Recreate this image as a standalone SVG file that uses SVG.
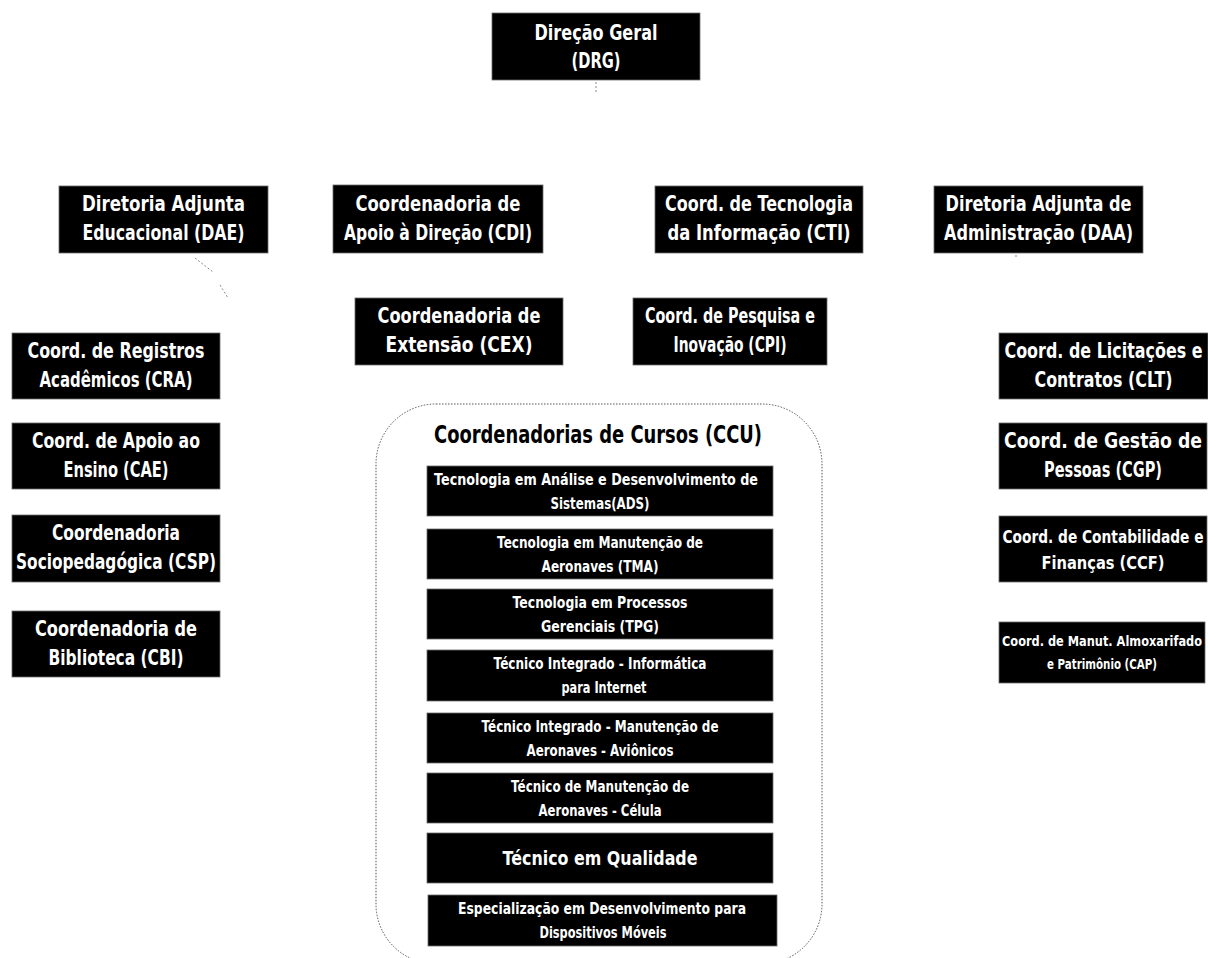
<svg xmlns="http://www.w3.org/2000/svg" width="1208" height="958" viewBox="0 0 1208 958">
<style>
.box{fill:#000;stroke:#6b6b6b;stroke-width:0.8}
text{font-family:'DejaVu Sans','Liberation Sans',sans-serif;font-weight:bold;fill:#fff;text-anchor:middle}
.h{font-size:21.5px}
.s{font-size:17px}
.xs{font-size:14.5px}
.c{font-size:16px}
.q{font-size:19.5px}
.t{font-size:25px;fill:#000}
.con{fill:none;stroke:#888;stroke-width:1;stroke-dasharray:2 2}
.frame{fill:none;stroke:#555;stroke-width:1;stroke-dasharray:1.5 1.5}
</style>
<rect width="1208" height="958" fill="#fff"/>
<g id="connectors">
<line class="con" x1="596" y1="82" x2="596" y2="93"/>
<line class="con" x1="195" y1="258" x2="213" y2="272"/>
<line class="con" x1="220" y1="285" x2="228" y2="298"/>
<line class="con" x1="1016" y1="255" x2="1016" y2="259"/>
</g>
<g id="DRG"><rect class="box" x="492" y="13" width="208" height="67"/><text class="h" x="596" y="40" textLength="123" lengthAdjust="spacingAndGlyphs">Direção Geral</text><text class="h" x="596" y="68" textLength="49" lengthAdjust="spacingAndGlyphs">(DRG)</text></g>
<g id="DAE"><rect class="box" x="59" y="186" width="209" height="67"/><text class="h" x="163.5" y="211" textLength="163" lengthAdjust="spacingAndGlyphs">Diretoria Adjunta</text><text class="h" x="163.5" y="240" textLength="162" lengthAdjust="spacingAndGlyphs">Educacional (DAE)</text></g>
<g id="CDI"><rect class="box" x="333" y="185" width="210" height="68"/><text class="h" x="438" y="211" textLength="165" lengthAdjust="spacingAndGlyphs">Coordenadoria de</text><text class="h" x="438" y="240" textLength="188" lengthAdjust="spacingAndGlyphs">Apoio à Direção (CDI)</text></g>
<g id="CTI"><rect class="box" x="655" y="186" width="208" height="67"/><text class="h" x="759" y="211" textLength="188" lengthAdjust="spacingAndGlyphs">Coord. de Tecnologia</text><text class="h" x="759" y="240" textLength="183" lengthAdjust="spacingAndGlyphs">da Informação (CTI)</text></g>
<g id="DAA"><rect class="box" x="934" y="186" width="209" height="67"/><text class="h" x="1038.5" y="211" textLength="186" lengthAdjust="spacingAndGlyphs">Diretoria Adjunta de</text><text class="h" x="1038.5" y="240" textLength="189" lengthAdjust="spacingAndGlyphs">Administração (DAA)</text></g>
<g id="CEX"><rect class="box" x="355" y="298" width="208" height="67"/><text class="h" x="459" y="323" textLength="163" lengthAdjust="spacingAndGlyphs">Coordenadoria de</text><text class="h" x="459" y="352" textLength="147" lengthAdjust="spacingAndGlyphs">Extensão (CEX)</text></g>
<g id="CPI"><rect class="box" x="633" y="298" width="194" height="67"/><text class="h" x="730" y="323" textLength="170" lengthAdjust="spacingAndGlyphs">Coord. de Pesquisa e</text><text class="h" x="730" y="352" textLength="113" lengthAdjust="spacingAndGlyphs">Inovação (CPI)</text></g>
<g id="CRA"><rect class="box" x="12" y="333" width="208" height="66"/><text class="h" x="116" y="358" textLength="177" lengthAdjust="spacingAndGlyphs">Coord. de Registros</text><text class="h" x="116" y="387" textLength="153" lengthAdjust="spacingAndGlyphs">Acadêmicos (CRA)</text></g>
<g id="CAE"><rect class="box" x="12" y="423" width="208" height="66"/><text class="h" x="116" y="448" textLength="168" lengthAdjust="spacingAndGlyphs">Coord. de Apoio ao</text><text class="h" x="116" y="477" textLength="105" lengthAdjust="spacingAndGlyphs">Ensino (CAE)</text></g>
<g id="CSP"><rect class="box" x="12" y="515" width="208" height="67"/><text class="h" x="116" y="540" textLength="128" lengthAdjust="spacingAndGlyphs">Coordenadoria</text><text class="h" x="116" y="569" textLength="200" lengthAdjust="spacingAndGlyphs">Sociopedagógica (CSP)</text></g>
<g id="CBI"><rect class="box" x="12" y="611" width="208" height="66"/><text class="h" x="116" y="636" textLength="162" lengthAdjust="spacingAndGlyphs">Coordenadoria de</text><text class="h" x="116" y="665" textLength="135" lengthAdjust="spacingAndGlyphs">Biblioteca (CBI)</text></g>
<g id="CLT"><rect class="box" x="999" y="333" width="209" height="66"/><text class="h" x="1103.5" y="358" textLength="198" lengthAdjust="spacingAndGlyphs">Coord. de Licitações e</text><text class="h" x="1103.5" y="387" textLength="138" lengthAdjust="spacingAndGlyphs">Contratos (CLT)</text></g>
<g id="CGP"><rect class="box" x="999" y="423" width="208" height="66"/><text class="h" x="1103" y="448" textLength="198" lengthAdjust="spacingAndGlyphs">Coord. de Gestão de</text><text class="h" x="1103" y="477" textLength="118" lengthAdjust="spacingAndGlyphs">Pessoas (CGP)</text></g>
<g id="CCF"><rect class="box" x="999" y="516" width="208" height="66"/><text class="s" x="1103" y="543" textLength="201" lengthAdjust="spacingAndGlyphs">Coord. de Contabilidade e</text><text class="s" x="1103" y="569" textLength="123" lengthAdjust="spacingAndGlyphs">Finanças (CCF)</text></g>
<g id="CAP"><rect class="box" x="999" y="622" width="206" height="61"/><text class="xs" x="1102" y="646" textLength="200" lengthAdjust="spacingAndGlyphs">Coord. de Manut. Almoxarifado</text><text class="xs" x="1102" y="669" textLength="110" lengthAdjust="spacingAndGlyphs">e Patrimônio (CAP)</text></g>
<g id="CCU">
<rect class="frame" x="376" y="404" width="446" height="560" rx="60" ry="60"/>
<text class="t" x="598" y="443" textLength="328" lengthAdjust="spacingAndGlyphs">Coordenadorias de Cursos (CCU)</text>
</g>
<g id="ADS"><rect class="box" x="427" y="466" width="346" height="50"/><text class="c" x="596" y="485" textLength="324" lengthAdjust="spacingAndGlyphs">Tecnologia em Análise e Desenvolvimento de</text><text class="c" x="600" y="509" textLength="99" lengthAdjust="spacingAndGlyphs">Sistemas(ADS)</text></g>
<g id="TMA"><rect class="box" x="427" y="529" width="346" height="50"/><text class="c" x="600" y="548" textLength="206" lengthAdjust="spacingAndGlyphs">Tecnologia em Manutenção de</text><text class="c" x="600" y="572" textLength="117" lengthAdjust="spacingAndGlyphs">Aeronaves (TMA)</text></g>
<g id="TPG"><rect class="box" x="427" y="589" width="346" height="50"/><text class="c" x="600" y="608" textLength="175" lengthAdjust="spacingAndGlyphs">Tecnologia em Processos</text><text class="c" x="600" y="632" textLength="118" lengthAdjust="spacingAndGlyphs">Gerenciais (TPG)</text></g>
<g id="TII"><rect class="box" x="427" y="650" width="346" height="51"/><text class="c" x="600" y="669" textLength="213" lengthAdjust="spacingAndGlyphs">Técnico Integrado - Informática</text><text class="c" x="604" y="693" textLength="85" lengthAdjust="spacingAndGlyphs">para Internet</text></g>
<g id="TAV"><rect class="box" x="427" y="713" width="346" height="50"/><text class="c" x="600" y="732" textLength="237" lengthAdjust="spacingAndGlyphs">Técnico Integrado - Manutenção de</text><text class="c" x="600" y="756" textLength="147" lengthAdjust="spacingAndGlyphs">Aeronaves - Aviônicos</text></g>
<g id="TCE"><rect class="box" x="427" y="773" width="346" height="50"/><text class="c" x="600" y="792" textLength="178" lengthAdjust="spacingAndGlyphs">Técnico de Manutenção de</text><text class="c" x="600" y="816" textLength="123" lengthAdjust="spacingAndGlyphs">Aeronaves - Célula</text></g>
<g id="TQU"><rect class="box" x="427" y="833" width="346" height="50"/><text class="q" x="600" y="865" textLength="195" lengthAdjust="spacingAndGlyphs">Técnico em Qualidade</text></g>
<g id="ESP"><rect class="box" x="428" y="895" width="349" height="51"/><text class="c" x="602" y="914" textLength="288" lengthAdjust="spacingAndGlyphs">Especialização em Desenvolvimento para</text><text class="c" x="603" y="938" textLength="127" lengthAdjust="spacingAndGlyphs">Dispositivos Móveis</text></g>
</svg>
